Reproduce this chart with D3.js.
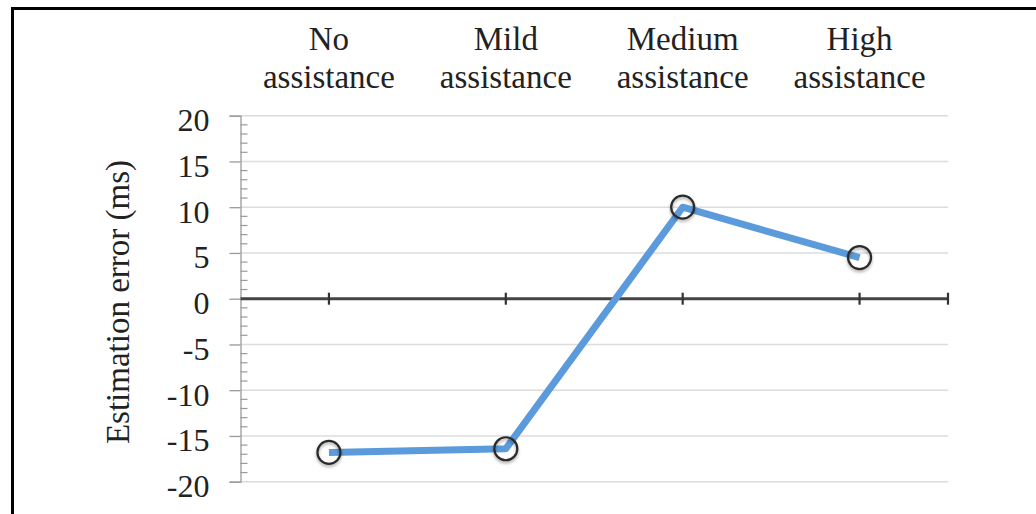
<!DOCTYPE html>
<html><head><meta charset="utf-8">
<script src="https://cdn.jsdelivr.net/npm/d3@7"></script>
<style>body{margin:0;background:#fff;}svg{display:block;}</style>
</head><body>
<svg id="chart" width="1036" height="514"></svg>
<script>
const categories = [["No","assistance"],["Mild","assistance"],["Medium","assistance"],["High","assistance"]];
const values = [-16.8, -16.4, 10, 4.5];
const yTicks = [20, 15, 10, 5, 0, -5, -10, -15, -20];
const yTitle = "Estimation error (ms)";

(function(){
const svg = d3.select("#chart");
const font = "'Liberation Serif','Times New Roman',serif";
const pLeft = 240.5, pRight = 948, pTop = 115.7, pBottom = 481.7;

// frame
svg.append("rect").attr("x",12.5).attr("y",8.5).attr("width",1100).attr("height",600)
  .attr("fill","none").attr("stroke","#000").attr("stroke-width",3);

const x = d3.scaleBand().domain(d3.range(categories.length)).range([pLeft,pRight]);
const y = d3.scaleLinear().domain([-20,20]).range([pBottom,pTop]);

const defs = svg.append("defs");
const f = defs.append("filter").attr("id","sh").attr("x","-50%").attr("y","-50%").attr("width","200%").attr("height","200%");
f.append("feDropShadow").attr("dx",0).attr("dy",2).attr("stdDeviation",1.5).attr("flood-color","#000").attr("flood-opacity",0.35);

// gridlines
svg.append("g").selectAll("line").data(yTicks.filter(d=>d!==0)).join("line")
  .attr("x1",pLeft).attr("x2",pRight).attr("y1",d=>y(d)).attr("y2",d=>y(d))
  .attr("stroke","#dcdcdc").attr("stroke-width",1.5);

// y axis
const yAxis = svg.append("g").attr("transform",`translate(${pLeft},0)`)
  .call(d3.axisLeft(y).tickValues(yTicks).tickSize(11).tickFormat(d=>String(d)));
yAxis.select(".domain").attr("stroke","#9a9a9a").attr("stroke-width",1.3);
yAxis.selectAll(".tick line").attr("stroke","#9a9a9a").attr("stroke-width",1.3);
yAxis.selectAll(".tick text").attr("font-family",font).attr("font-size",32).attr("fill","#222")
  .attr("x",-31).attr("dy",null).attr("y",15);
// minor ticks
const minor = d3.range(-20,21).filter(d=>d%5!==0);
svg.append("g").selectAll("line").data(minor).join("line")
  .attr("x1",pLeft).attr("x2",pLeft+7).attr("y1",d=>y(d)).attr("y2",d=>y(d))
  .attr("stroke","#9a9a9a").attr("stroke-width",1.2);

// x axis at zero
svg.append("line").attr("x1",pLeft).attr("x2",pRight).attr("y1",y(0)).attr("y2",y(0))
  .attr("stroke","#444").attr("stroke-width",3);
const xt = categories.map((c,i)=>x(i)+x.bandwidth()/2).concat([pRight]);
svg.append("g").selectAll("line").data(xt).join("line")
  .attr("x1",d=>d).attr("x2",d=>d).attr("y1",y(0)-6).attr("y2",y(0)+6)
  .attr("stroke","#333").attr("stroke-width",2.2);

// category labels
const cl = svg.append("g").selectAll("text").data(categories).join("text")
  .attr("font-family",font).attr("font-size",33).attr("fill","#222").attr("text-anchor","middle");
cl.append("tspan").attr("x",(d,i)=>x(i)+x.bandwidth()/2).attr("y",50).text(d=>d[0]);
cl.append("tspan").attr("x",(d,i)=>x(i)+x.bandwidth()/2).attr("y",88).text(d=>d[1]);

// y title
svg.append("text").attr("transform","translate(129,302) rotate(-90)").attr("text-anchor","middle")
  .attr("font-family",font).attr("font-size",33).attr("fill","#222").text(yTitle);

// line
const line = d3.line().x((d,i)=>x(i)+x.bandwidth()/2).y(d=>y(d));
svg.append("path").datum(values).attr("d",line).attr("fill","none")
  .attr("stroke","#5b9bdc").attr("stroke-width",7).attr("stroke-linejoin","round");

svg.append("g").selectAll("circle").data(values).join("circle")
  .attr("cx",(d,i)=>x(i)+x.bandwidth()/2).attr("cy",d=>y(d)).attr("r",11.5)
  .attr("fill","none").attr("stroke","#2b2b2b").attr("stroke-width",2.2).attr("filter","url(#sh)");
})();
</script>
</body></html>
